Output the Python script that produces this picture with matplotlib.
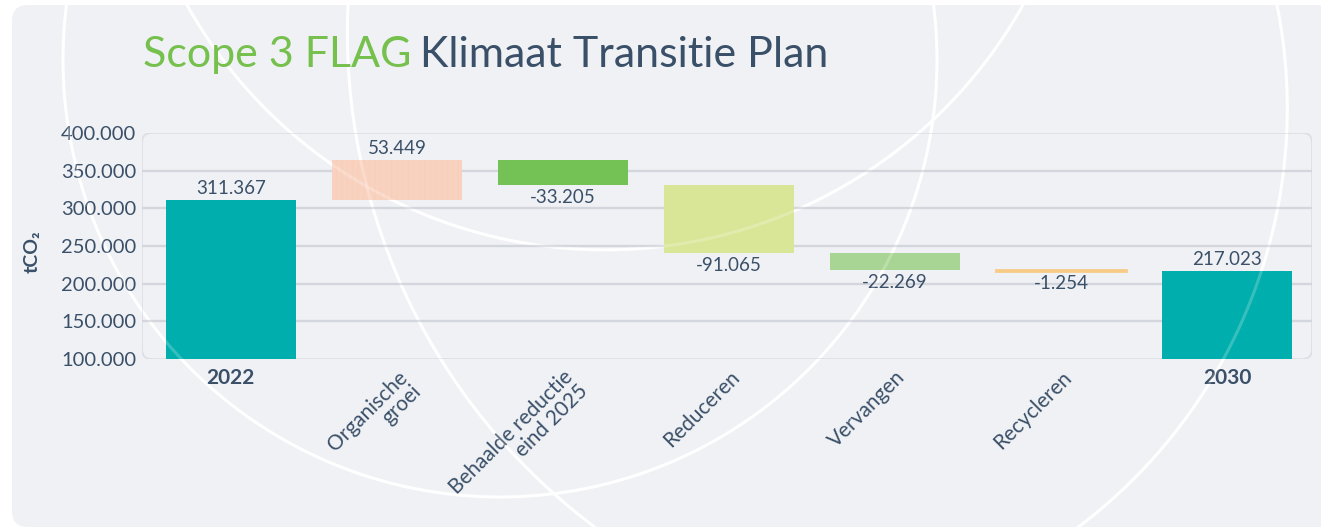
import matplotlib
matplotlib.use("Agg")
import matplotlib.pyplot as plt
import numpy as np
from matplotlib.patches import FancyBboxPatch
from matplotlib.transforms import offset_copy
from matplotlib.ticker import FuncFormatter

plt.rcParams['font.family'] = ['Lato', 'DejaVu Sans']
plt.rcParams['hatch.linewidth'] = 0.5

# data
categories = ["2022", "Organische\ngroei", "Behaalde reductie\neind 2025",
              "Reduceren", "Vervangen", "Recycleren", "2030"]
changes = [311367, 53449, -33205, -91065, -22269, -1254, 217023]
is_total = [True, False, False, False, False, False, True]
bar_colors = ["#00AEAD", "#F9D2BF", "#74C155", "#D9E697", "#A9D594", "#F7CB86", "#00AEAD"]
yticks = [100000, 150000, 200000, 250000, 300000, 350000, 400000]

dark = "#3A5068"
green = "#76C04E"

W, H = 1321, 531
fig = plt.figure(figsize=(W / 100, H / 100), dpi=100, facecolor="white")

# background card + decorative arcs (pixel coords, y down)
bg = fig.add_axes([0, 0, 1, 1], zorder=0)
bg.set_xlim(0, W)
bg.set_ylim(H, 0)
bg.axis("off")
bg.add_patch(FancyBboxPatch((12, 5), W + 40, H - 9, boxstyle="round,pad=0,rounding_size=16",
                            fc="#F0F1F5", ec="none"))


def circle3(p1, p2, p3):
    (x1, y1), (x2, y2), (x3, y3) = p1, p2, p3
    a = np.array([[x2 - x1, y2 - y1], [x3 - x1, y3 - y1]], float) * 2
    b = np.array([x2**2 - x1**2 + y2**2 - y1**2, x3**2 - x1**2 + y3**2 - y1**2], float)
    cx, cy = np.linalg.solve(a, b)
    return (cx, cy), np.hypot(x1 - cx, y1 - cy)


# (centre, radius, start angle, end angle) in degrees, y pointing down
arcs = [((500, 60), 437, -10, 190),
        (*circle3((187, 5), (673, 245), (1023, 5)), 0, 180),
        (*circle3((348, 5), (440, 358), (600, 531)), 90, 185),
        (*circle3((1277, 5), (1263, 266), (1073, 531)), -15, 60)]


def draw_arcs(axx, alpha):
    clip = FancyBboxPatch((12, 5), W + 40, H - 9, boxstyle="round,pad=0,rounding_size=16",
                          fc="none", ec="none", transform=axx.transData)
    axx.add_patch(clip)
    for (cx, cy), r, a0, a1 in arcs:
        th = np.radians(np.linspace(a0, a1, 400))
        ln, = axx.plot(cx + r * np.cos(th), cy + r * np.sin(th), color="white",
                       lw=2.2, alpha=alpha, solid_capstyle="butt")
        ln.set_clip_path(clip)


draw_arcs(bg, 1.0)

# main chart
ax = fig.add_axes([142 / W, 1 - 359 / H, (1312 - 142) / W, (359 - 133) / H], zorder=1)
ax.set_facecolor("none")
for s in ax.spines.values():
    s.set_visible(False)

bottoms, heights = [], []
running = 0
for v, tot in zip(changes, is_total):
    if tot:
        bottoms.append(0)
        heights.append(v)
        running = v
    else:
        bottoms.append(running if v > 0 else running + v)
        heights.append(abs(v))
        running += v

x = np.arange(len(categories))
bars = ax.bar(x, heights, bottom=bottoms, width=0.785, color=bar_colors, zorder=3)
bars[1].set_hatch("|||")
bars[1].set_edgecolor("#F6CDB9")
bars[1].set_linewidth(0)
bars[5].set_edgecolor(bar_colors[5])
bars[5].set_linewidth(2)

ax.set_xlim(-0.535, 6.51)
ax.set_ylim(100000, 400000)
ax.set_yticks(yticks)
ax.yaxis.set_major_formatter(FuncFormatter(lambda v, p: f"{int(v):,}".replace(",", ".")))
ax.tick_params(axis="y", length=0, pad=4, labelsize=14.5, labelcolor=dark)
ax.tick_params(axis="x", length=0, labelbottom=False)
for t in yticks[1:-1]:
    ax.axhline(t, color="#D4D6DD", lw=1.7, zorder=1)

frame = FancyBboxPatch((0, 0), 1, 1, boxstyle="round,pad=0,rounding_size=0.008",
                       transform=ax.transAxes, fc="none", ec="#DCDEE4", lw=1.2,
                       mutation_aspect=(1312 - 142) / (359 - 133), zorder=0)
ax.add_patch(frame)

# value labels
for i, (v, b, h) in enumerate(zip(changes, bottoms, heights)):
    txt = f"{v:,}".replace(",", ".")
    if v >= 0:
        ax.annotate(txt, (i, b + h), xytext=(0, 2), textcoords="offset points",
                    ha="center", va="bottom", fontsize=13.5, color=dark, zorder=5)
    else:
        ax.annotate(txt, (i, b), xytext=(0, -3), textcoords="offset points",
                    ha="center", va="top", fontsize=13.5, color=dark, zorder=5)

# category labels
for i, (lab, tot) in enumerate(zip(categories, is_total)):
    if tot:
        tr = offset_copy(ax.get_xaxis_transform(), fig=fig, x=0, y=-9, units="dots")
        ax.text(i, 0, lab, transform=tr, ha="center", va="top", fontsize=15,
                fontweight="bold", color=dark)
    else:
        tr = offset_copy(ax.get_xaxis_transform(), fig=fig, x=0, y=-8, units="dots")
        ax.text(i, 0, lab, transform=tr, ha="right", va="top", rotation=45,
                rotation_mode="anchor", multialignment="right", fontsize=15,
                color=dark, linespacing=1.0)

fig.text(32 / W, 1 - 252 / H, "tCO\u2082", rotation=90, ha="center", va="center",
         fontsize=14, fontweight="bold", color=dark)

# title in two colours
t1 = fig.text(143 / W, 1 - 67 / H, "Scope 3 FLAG", fontsize=31, color=green,
              ha="left", va="baseline")
fig.canvas.draw()
bb = t1.get_window_extent()
fig.text((bb.x1 + 9) / W, 1 - 67 / H, "Klimaat Transitie Plan", fontsize=31,
         color=dark, ha="left", va="baseline")

# faint arcs over the bars
ov = fig.add_axes([0, 0, 1, 1], zorder=2)
ov.set_xlim(0, W)
ov.set_ylim(H, 0)
ov.axis("off")
ov.patch.set_visible(False)
draw_arcs(ov, 0.22)

fig.savefig("out.png", dpi=100, facecolor="white")
